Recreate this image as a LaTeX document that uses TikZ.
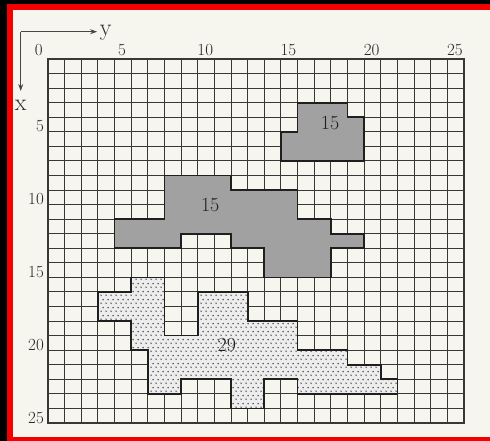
\documentclass[tikz,border=0pt]{standalone}
\usetikzlibrary{arrows.meta,patterns.meta}

\definecolor{paper}{RGB}{247,246,238}
\definecolor{scanred}{RGB}{245,0,0}

\tikzdeclarepattern{
  name=sparsedots,
  type=uncolored,
  bounding box={(0pt,0pt) and (5pt,8pt)},
  tile size={(5pt,8pt)},
  code={
    \fill (1.25pt,2pt) circle (0.95pt);
    \fill (3.75pt,6pt) circle (0.95pt);
  }
}

\begin{document}
\begin{tikzpicture}[
  gridline/.style={line width=1.05pt,draw=black!78},
  zoneline/.style={line width=1.7pt,draw=black!88,line join=miter},
  darkzone/.style={zoneline,fill=black!37},
  lightzone/.style={zoneline,preaction={fill=black!7},pattern=sparsedots,pattern color=black!68},
  tick/.style={font=\fontsize{17}{17}\selectfont,inner sep=0pt,text=black!85},
  zonenum/.style={font=\fontsize{20}{20}\selectfont,inner sep=0pt,text=black!88},
  axname/.style={font=\fontsize{24}{24}\selectfont,inner sep=0pt,text=black!82},
  axis/.style={-{Stealth[length=7pt,width=5pt]},line width=0.9pt,draw=black!72},
]
\useasboundingbox (0pt,0pt) rectangle (490pt,-441pt);
% scanned page with its red frame
\fill[black] (0pt,0pt) rectangle (490pt,-441pt);
\fill[scanred] (7pt,-4pt) rectangle (490pt,-441pt);
\fill[paper] (13pt,-10pt) rectangle (490pt,-437pt);

\begin{scope}[shift={(48pt,-59pt)},x=16.64pt,y=-14.56pt]
% base map grid
\foreach \c in {0,...,25} \draw[gridline] (\c,0) -- (\c,25);
\foreach \r in {0,...,25} \draw[gridline] (0,\r) -- (25,\r);
\draw[gridline,line width=1.6pt] (0,0) rectangle (25,25);

% zones
\path[darkzone] (15,3) -- (18,3) -- (18,4) -- (19,4) -- (19,7) -- (14,7) -- (14,5) -- (15,5) -- cycle;
\path[darkzone] (7,8) -- (11,8) -- (11,9) -- (15,9) -- (15,11) -- (17,11) -- (17,12) -- (19,12)
  -- (19,13) -- (17,13) -- (17,15) -- (13,15) -- (13,13) -- (11,13) -- (11,12) -- (8,12)
  -- (8,13) -- (4,13) -- (4,11) -- (7,11) -- cycle;
\path[lightzone] (5,15) -- (7,15) -- (7,19) -- (9,19) -- (9,16) -- (12,16) -- (12,18) -- (15,18)
  -- (15,20) -- (18,20) -- (18,21) -- (20,21) -- (20,22) -- (21,22) -- (21,23) -- (15,23)
  -- (15,22) -- (13,22) -- (13,24) -- (11,24) -- (11,22) -- (8,22) -- (8,23) -- (6,23)
  -- (6,20) -- (5,20) -- (5,18) -- (3,18) -- (3,16) -- (5,16) -- cycle;

\node[zonenum] (zoneA) at (16.95,4.4) {15};
\node[zonenum] (zoneB) at (9.75,10.05) {15};
\node[zonenum] (zoneC) at (10.75,19.65) {29};

% scales
\foreach \k in {0,5,...,25} \node[tick,anchor=base] (top\k) at (\k-0.55,-0.27) {\k};
\foreach \k in {5,10,...,25} \node[tick,anchor=base east] (left\k) at (-0.24,\k) {\k};

% axes
\coordinate (origin) at (-1.64,-1.875);
\coordinate (yend) at (2.95,-1.875);
\coordinate (xend) at (-1.64,2.2);
\draw[axis] (origin) -- (yend);
\draw[axis] (origin) -- (xend);
\node[axname,anchor=base west] (ylab) at (3.1,-1.63) {y};
\node[axname,anchor=base] (xlab) at (-1.64,3.54) {x};
\end{scope}
\end{tikzpicture}
\end{document}
